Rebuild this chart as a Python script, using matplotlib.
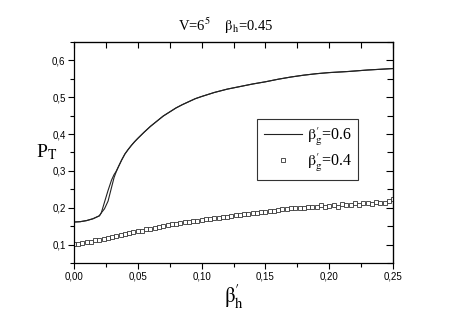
import numpy as np
import matplotlib
matplotlib.use('Agg')
import matplotlib.pyplot as plt
from matplotlib.ticker import MultipleLocator, NullFormatter

matplotlib.rcParams['mathtext.fontset'] = 'stix'

# beta_g' = 0.6 : two nearly coincident runs
bh_line = [0.0, 0.005, 0.010, 0.015, 0.020, 0.0215, 0.024, 0.0268, 0.0295, 0.0315,
           0.033, 0.035, 0.0375, 0.040, 0.0425, 0.045, 0.0475, 0.050, 0.055, 0.060,
           0.065, 0.070, 0.075, 0.080, 0.085, 0.090, 0.095, 0.100, 0.110, 0.120,
           0.130, 0.140, 0.150, 0.160, 0.170, 0.180, 0.190, 0.200, 0.215, 0.230,
           0.250]
pt_a = [0.161, 0.162, 0.165, 0.170, 0.178, 0.186, 0.215, 0.247, 0.275, 0.290,
        0.298, 0.312, 0.330, 0.346, 0.358, 0.369, 0.379, 0.388, 0.405, 0.421,
        0.435, 0.449, 0.460, 0.471, 0.480, 0.488, 0.496, 0.502, 0.513, 0.522,
        0.529, 0.536, 0.542, 0.549, 0.555, 0.560, 0.564, 0.567, 0.570, 0.574,
        0.578]
pt_b = [0.161, 0.162, 0.165, 0.170, 0.178, 0.186, 0.197, 0.218, 0.255, 0.282,
        0.296, 0.312, 0.330, 0.346, 0.358, 0.369, 0.379, 0.388, 0.405, 0.421,
        0.435, 0.449, 0.460, 0.471, 0.480, 0.488, 0.496, 0.502, 0.513, 0.522,
        0.529, 0.536, 0.542, 0.549, 0.555, 0.560, 0.564, 0.567, 0.570, 0.574,
        0.578]

# beta_g' = 0.4 : squares
pt_sq = [0.101, 0.102, 0.104, 0.106, 0.108, 0.111, 0.113, 0.116, 0.118, 0.121,
         0.123, 0.126, 0.128, 0.131, 0.133, 0.136, 0.138, 0.141, 0.143, 0.145,
         0.148, 0.150, 0.152, 0.155, 0.157, 0.159, 0.160, 0.162, 0.164, 0.165,
         0.167, 0.168, 0.170, 0.172, 0.173, 0.175, 0.176, 0.178, 0.179, 0.181,
         0.182, 0.184, 0.185, 0.186, 0.188, 0.189, 0.191, 0.192, 0.194, 0.196,
         0.196, 0.199, 0.198, 0.200, 0.199, 0.203, 0.201, 0.203, 0.206, 0.202,
         0.204, 0.208, 0.203, 0.210, 0.206, 0.207, 0.213, 0.208, 0.212, 0.214,
         0.209, 0.215, 0.212, 0.214, 0.219, 0.224]
bh_sq = np.linspace(0.0, 0.25, len(pt_sq))

xticks = [0.0, 0.05, 0.10, 0.15, 0.20, 0.25]
xticklabels = ['0,00', '0,05', '0,10', '0,15', '0,20', '0,25']
yticks = [0.1, 0.2, 0.3, 0.4, 0.5, 0.6]
yticklabels = ['0,1', '0,2', '0,3', '0,4', '0,5', '0,6']

serif = 'Liberation Serif'
sans = 'Liberation Sans'
beta = r'\mathrm{\beta}'

fig = plt.figure(figsize=(4.53, 3.16), dpi=100)
ax = fig.add_axes([0.163, 0.168, 0.705, 0.699])

ax.plot(bh_line, pt_a, color='#222222', lw=0.8,
        label=r"$%s^{\prime}_{\mathrm{g}}$=0.6" % beta)
ax.plot(bh_line, pt_b, color='#222222', lw=0.8)
ax.plot(bh_sq, pt_sq, ls='none', marker='s', ms=3.2, mfc='white', mec='#333333',
        mew=0.6, label=r"$%s^{\prime}_{\mathrm{g}}$=0.4" % beta)

ax.set_xlim(0, 0.25)
ax.set_ylim(0.05, 0.65)
ax.set_xticks(xticks)
ax.set_xticklabels(xticklabels, family=sans, fontsize=7)
ax.set_yticks(yticks)
ax.set_yticklabels(yticklabels, family=sans, fontsize=7)
ax.xaxis.set_minor_locator(MultipleLocator(0.025))
ax.yaxis.set_minor_locator(MultipleLocator(0.05))
ax.tick_params(which='both', direction='out', width=0.8, pad=2)
ax.tick_params(which='major', length=4)
ax.tick_params(which='minor', length=3)
for spine in ax.spines.values():
    spine.set_linewidth(0.9)

# top and right ticks point inward
top = ax.secondary_xaxis('top')
top.set_xticks(xticks)
top.xaxis.set_minor_locator(MultipleLocator(0.025))
top.xaxis.set_major_formatter(NullFormatter())
top.tick_params(which='both', direction='in', width=0.8, length=4)
right = ax.secondary_yaxis('right')
right.set_yticks(yticks)
right.yaxis.set_minor_locator(MultipleLocator(0.05))
right.yaxis.set_major_formatter(NullFormatter())
right.tick_params(which='major', direction='in', width=0.8, length=5)
right.tick_params(which='minor', direction='in', width=0.8, length=4)

ax.set_title(r"V=6$^{5}$    $%s_{\mathrm{h}}$=0.45" % beta, family=serif, fontsize=10.5,
             pad=8, x=0.475)
ax.set_xlabel(r"$%s^{\prime}_{\mathrm{h}}$" % beta, fontsize=15, labelpad=2)
ax.set_ylabel(r"P$_{\mathrm{T}}$", family=serif, fontsize=14, rotation=0, labelpad=4,
              va='center')

leg = ax.legend(loc='upper left', bbox_to_anchor=(0.574, 0.652), borderaxespad=0,
                fancybox=False, edgecolor='#333333', framealpha=1, handlelength=2.4,
                handletextpad=0.3, borderpad=0.4, labelspacing=0.2,
                prop={'family': serif, 'size': 11.5})
leg.get_frame().set_linewidth(0.8)

fig.savefig('out.png', dpi=100)
